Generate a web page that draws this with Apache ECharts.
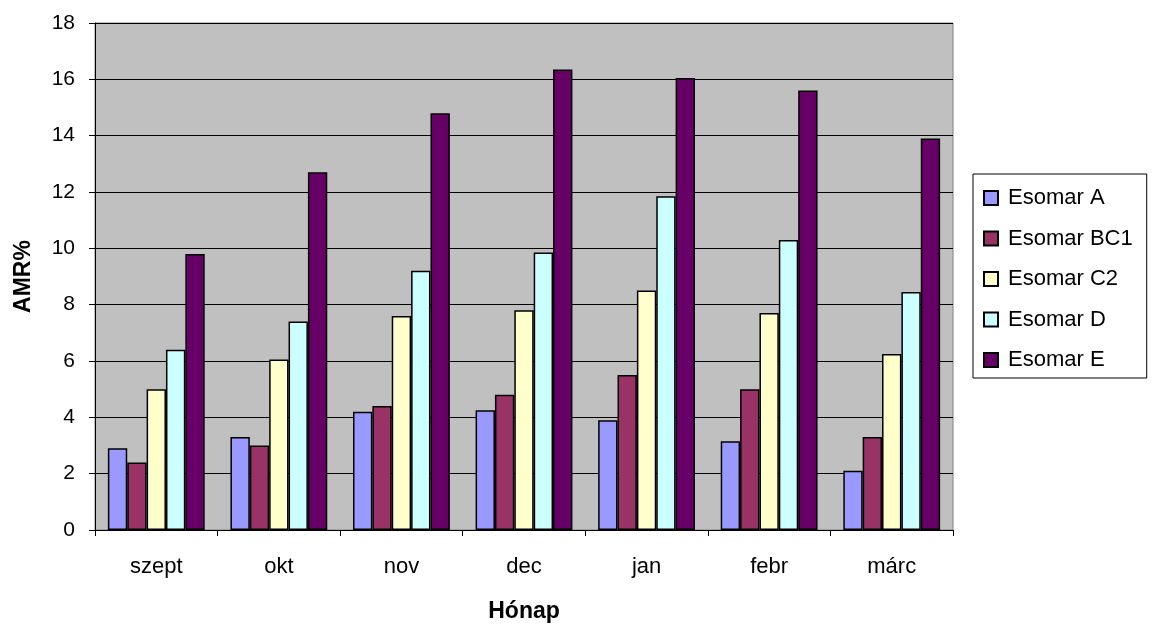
<!DOCTYPE html>
<html>
<head>
<meta charset="utf-8">
<script src="https://cdn.jsdelivr.net/npm/echarts@6/dist/echarts.min.js"></script>
<style>
html,body{margin:0;padding:0;background:#fff;}
#chart{width:1156px;height:628px;}
</style>
</head>
<body>
<div id="chart"></div>
<script>
const categories = ['szept', 'okt', 'nov', 'dec', 'jan', 'febr', 'márc'];
const esomarA   = [2.9, 3.3, 4.2, 4.25, 3.9, 3.15, 2.1];
const esomarBC1 = [2.4, 3.0, 4.4, 4.8, 5.5, 5.0, 3.3];
const esomarC2  = [5.0, 6.05, 7.6, 7.8, 8.5, 7.7, 6.25];
const esomarD   = [6.4, 7.4, 9.2, 9.85, 11.85, 10.3, 8.45];
const esomarE   = [9.8, 12.7, 14.8, 16.35, 16.05, 15.6, 13.9];
const seriesNames = ['Esomar A', 'Esomar BC1', 'Esomar C2', 'Esomar D', 'Esomar E'];
const seriesColors = ['#9999FF', '#993366', '#FFFFCC', '#CCFFFF', '#660066'];
const seriesData = [esomarA, esomarBC1, esomarC2, esomarD, esomarE];

const FONT = '"Liberation Sans", Arial, sans-serif';
const chart = echarts.init(document.getElementById('chart'), null, {renderer: 'canvas'});

const series = seriesNames.map((name, i) => ({
  name: name,
  type: 'bar',
  data: seriesData[i],
  barGap: '0%',
  barCategoryGap: '21%',
  itemStyle: { color: seriesColors[i], borderColor: '#000', borderWidth: 1.5 },
  emphasis: { disabled: true }
}));

chart.setOption({
  animation: false,
  backgroundColor: '#ffffff',
  textStyle: { fontFamily: FONT },
  grid: {
    left: 95, right: 203, top: 23, bottom: 96,
    show: true, backgroundColor: '#C0C0C0', borderColor: '#808080', borderWidth: 1
  },
  legend: {
    orient: 'vertical',
    left: 973, top: 174,
    padding: [13, 14, 7, 10],
    itemWidth: 14, itemHeight: 14, itemGap: 18.5,
    icon: 'rect',
    borderColor: '#000', borderWidth: 1, backgroundColor: '#fff',
    textStyle: { fontFamily: FONT, fontSize: 22, color: '#000', lineHeight: 22, padding: [0, 0, 0, 5] },
    data: seriesNames
  },
  xAxis: {
    type: 'category',
    data: categories,
    name: 'Hónap',
    nameLocation: 'middle',
    nameGap: 70,
    nameTextStyle: { fontFamily: FONT, fontSize: 23, fontWeight: 'bold', color: '#000' },
    axisLine: { lineStyle: { color: '#000', width: 1 } },
    axisTick: { show: true, length: 6, lineStyle: { color: '#000' } },
    axisLabel: { fontFamily: FONT, fontSize: 22, color: '#000', margin: 26 },
    splitLine: { show: false }
  },
  yAxis: {
    type: 'value',
    min: 0, max: 18, interval: 2,
    name: 'AMR%',
    nameLocation: 'middle',
    nameGap: 60,
    nameRotate: 90,
    nameTextStyle: { fontFamily: FONT, fontSize: 23, fontWeight: 'bold', color: '#000' },
    axisLine: { show: true, lineStyle: { color: '#000', width: 1 } },
    axisTick: { show: true, length: 6, lineStyle: { color: '#000' } },
    axisLabel: { fontFamily: FONT, fontSize: 21, color: '#000', margin: 20 },
    splitLine: { show: true, lineStyle: { color: '#000', width: 1 } }
  },
  series: series
});
</script>
</body>
</html>
